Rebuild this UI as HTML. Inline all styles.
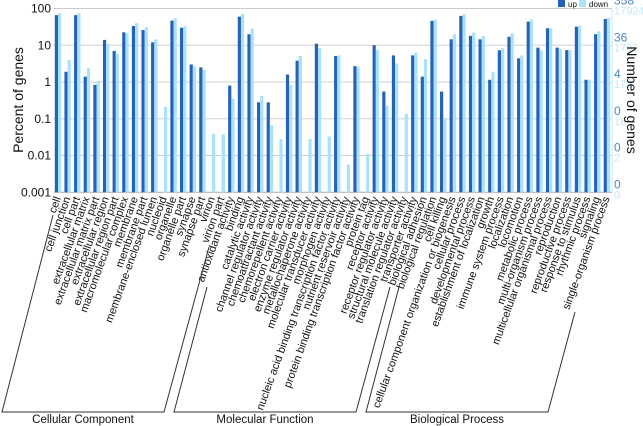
<!DOCTYPE html>
<html><head><meta charset="utf-8"><style>
body{margin:0;background:#fff}
svg{display:block;font-family:"Liberation Sans",sans-serif}
</style></head><body>
<svg id="chart" width="643" height="426" viewBox="0 0 643 426" xmlns="http://www.w3.org/2000/svg"></svg>
<script>
const categories=["cell","cell junction","cell part","extracellular matrix","extracellular matrix part","extracellular region","extracellular region part","macromolecular complex","membrane","membrane part","membrane-enclosed lumen","nucleoid","organelle","organelle part","synapse","synapse part","virion","virion part",
"antioxidant activity","binding","catalytic activity","channel regulator activity","chemoattractant activity","chemorepellent activity","electron carrier activity","enzyme regulator activity","metallochaperone activity","molecular transducer activity","morphogen activity","nucleic acid binding transcription factor activity","nutrient reservoir activity","protein binding transcription factor activity","protein tag","receptor activity","receptor regulator activity","structural molecule activity","translation regulator activity","transporter activity",
"biological adhesion","biological regulation","cell killing","cellular component organization or biogenesis","cellular process","developmental process","establishment of localization","growth","immune system process","localization","locomotion","metabolic process","multi-organism process","multicellular organismal process","reproduction","reproductive process","response to stimulus","rhythmic process","signaling","single-organism process"];
const upValues=[66,1.9,66,1.4,0.83,14,7,22.5,33.5,26,12,0,47,30,3.0,2.5,0,0,
0.8,60,20,0.28,0.28,0,1.6,3.8,0,11,0,5.1,0,2.7,0,10,0.55,5.3,0,5.3,
1.4,46,0.55,14.5,63,18,14.5,1.15,7.3,17,4.4,44,8.6,29,8.6,7.4,32,1.15,20,52];
const downValues=[74,4,74,2.4,1.07,11,5.8,21,40,31,14.5,0.21,55,33,2.7,2.1,0.039,0.038,
0.35,71,28,0.42,0.067,0.028,0.83,5.1,0.028,8.3,0.033,5.3,0.0056,2.6,0.011,7.5,0.23,3.2,0.135,6.3,
4.2,50,0.1,20,70,22,18,1.9,8.3,21,5.3,50,7.3,29,8.0,7.4,34,1.15,24,55];
const leftTicks=["0.001","0.01","0.1","1","10","100"];
const rightTicksUp=["0","0","0","4","36","358"];
const rightTicksDown=["0","2","18","179","1792","17924"];
const groups=[["Cellular Component",0,17],["Molecular Function",18,37],["Biological Process",38,57]];

const svg=document.getElementById('chart');
const NS="http://www.w3.org/2000/svg";
function mk(tag,attrs,parent){const e=document.createElementNS(NS,tag);for(const k in attrs)e.setAttribute(k,attrs[k]);(parent||svg).appendChild(e);return e;}
const X0=58,STEP=9.63,YTOP=8.5,DEC=36.75,PLOTL=54,PLOTR=612,YBOT=YTOP+5*DEC;
function xc(i){return X0+i*STEP;}
function y(v){return YTOP+(2-Math.log10(v))*DEC;}

leftTicks.forEach((t,i)=>{
  const yy=y(parseFloat(t));
  const g=mk('line',{x1:PLOTL,x2:PLOTR,y1:yy,y2:yy,stroke:i===0?'#aaa':'#d0d0d0','stroke-width':1});
  
  
  const tx=mk('text',{x:51,y:yy+4,'text-anchor':'end','font-size':12,fill:'#111'});
  tx.textContent=t;
  
  
  const ru=mk('text',{x:614,y:yy-4,'font-size':12,fill:'#4a86c5'});
  ru.textContent=rightTicksUp[i];
  
  
  const rd=mk('text',{x:614,y:yy+6,'font-size':11,fill:'#c2e8f8'});
  rd.textContent=rightTicksDown[i];
  
  
});
const tb=mk('line',{x1:PLOTL,x2:PLOTR,y1:YTOP,y2:YTOP,stroke:'#bbb','stroke-dasharray':'1,3'});


const ra=mk('line',{x1:612,x2:612,y1:YTOP,y2:YBOT,stroke:'#c2e8f8'});



categories.forEach((c,i)=>{
  const cx=xc(i);
  if(upValues[i]>0){
    const b=mk('rect',{x:cx-3.2,y:y(upValues[i]),width:3.2,height:YBOT-y(upValues[i]),fill:'#2563b8'});
    
    
  }
  if(downValues[i]>0){
    const b=mk('rect',{x:cx,y:y(downValues[i]),width:3.2,height:YBOT-y(downValues[i]),fill:'#a9e2f9'});
    
    
  }
  const t=mk('text',{x:cx+3,y:YBOT+6,'text-anchor':'end','font-size':11,fill:'#111',transform:`rotate(-70 ${cx+3} ${YBOT+6})`});
  t.textContent=c;
  
  
});

const br=[[[53,215],[2,412],[164,412],[209,247]],[[207,287],[174,412],[356,412],[390,287]],[[399,287],[366,412],[548,412],[575,312]]];
br.forEach((p,gi)=>{
  const pl=mk('polyline',{points:p.map(q=>q.join(',')).join(' '),fill:'none',stroke:'#333','stroke-width':1});
  
  
  const t=mk('text',{x:(p[1][0]+p[2][0])/2,y:423,'text-anchor':'middle','font-size':11.5,fill:'#111'});
  t.textContent=groups[gi][0];
  
  
});

const yt=mk('text',{x:0,y:0,'text-anchor':'middle','font-size':14,fill:'#111',transform:'translate(23,100) rotate(-90)'});
yt.textContent='Percent of genes';


const yt2=mk('text',{x:0,y:0,'text-anchor':'middle','font-size':14,fill:'#111',transform:'translate(627,100) rotate(90)'});
yt2.textContent='Number of genes';



const l1=mk('rect',{x:558,y:0,width:7,height:7,fill:'#2563b8'});


const lt1=mk('text',{x:568,y:7,'font-size':8,fill:'#111'});lt1.textContent='up';


const l2=mk('rect',{x:579,y:0,width:7,height:7,fill:'#a9e2f9'});


const lt2=mk('text',{x:589,y:7,'font-size':8,fill:'#111'});lt2.textContent='down';


</script>
</body></html>
